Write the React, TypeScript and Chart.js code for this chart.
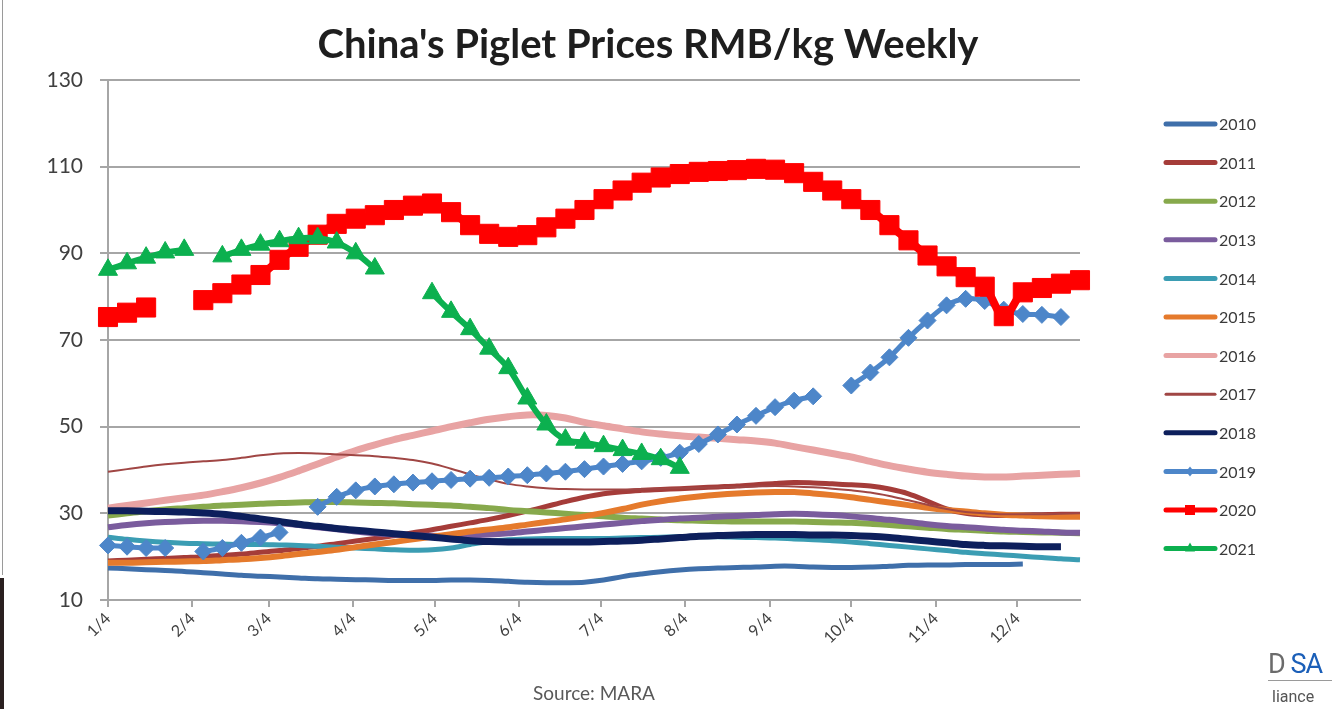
import React, { useEffect, useRef } from "react";
import { Chart, registerables } from "chart.js";

Chart.register(...registerables);

const TITLE = "China's Piglet Prices RMB/kg Weekly";
const SOURCE = "Source: MARA";

// week index of each weekly observation (week 0 = Jan 4)
const WEEKS = [
  0, 1, 2, 3, 4, 5, 6, 7, 8, 9, 10, 11, 12, 13, 14, 15, 16, 17, 18, 19, 20, 21, 22, 23, 24, 25,
  26, 27, 28, 29, 30, 31, 32, 33, 34, 35, 36, 37, 38, 39, 40, 41, 42, 43, 44, 45, 46, 47, 48, 49, 50, 51,
];

// x-axis tick labels and their day-of-year
const MONTH_LABELS = ["1/4", "2/4", "3/4", "4/4", "5/4", "6/4", "7/4", "8/4", "9/4", "10/4", "11/4", "12/4"];
const MONTH_DAY_OF_YEAR = [4, 35, 63, 94, 124, 155, 185, 216, 247, 277, 308, 338];

const Y_MIN = 10;
const Y_MAX = 130;
const Y_STEP = 20;

const YEARS = ["2010", "2011", "2012", "2013", "2014", "2015", "2016", "2017", "2018", "2019", "2020", "2021"];

const S2010 = [
  17.4, 17.2, 17.0, 16.8, 16.6, 16.3, 16.0, 15.7, 15.5, 15.3, 15.1, 14.9, 14.8, 14.7, 14.6, 14.5, 14.5, 14.5,
  14.6, 14.6, 14.5, 14.3, 14.1, 14.0, 14.0, 14.1, 14.6, 15.4, 16.0, 16.5, 16.9, 17.2, 17.4, 17.5, 17.6, 17.8,
  17.8, 17.6, 17.5, 17.5, 17.6, 17.8, 18.0, 18.1, 18.1, 18.2, 18.2, 18.2, 18.3, null, null, null,
];
const S2011 = [
  19.0, 19.2, 19.4, 19.6, 19.8, 20.0, 20.3, 20.6, 21.0, 21.4, 21.9, 22.4, 23.0, 23.6, 24.2, 24.8, 25.5, 26.2,
  27.0, 27.8, 28.6, 29.5, 30.5, 31.6, 32.7, 33.7, 34.5, 35.0, 35.3, 35.5, 35.7, 35.9, 36.1, 36.3, 36.6, 36.9,
  37.1, 37.0, 36.8, 36.6, 36.3, 35.6, 34.5, 32.8, 31.0, 30.0, 29.6, 29.5, 29.6, 29.7, 29.8, 29.8,
];
const S2012 = [
  29.5, 30.0, 30.5, 30.9, 31.2, 31.5, 31.8, 32.0, 32.2, 32.4, 32.5, 32.6, 32.6, 32.5, 32.4, 32.3, 32.1, 32.0,
  31.8, 31.5, 31.2, 30.8, 30.5, 30.2, 29.9, 29.6, 29.3, 29.0, 28.8, 28.6, 28.4, 28.3, 28.2, 28.1, 28.1, 28.1,
  28.1, 28.0, 27.9, 27.8, 27.6, 27.3, 27.0, 26.7, 26.4, 26.2, 26.0, 25.8, 25.7, 25.6, 25.5, 25.4,
];
const S2013 = [
  26.8, 27.3, 27.7, 28.0, 28.2, 28.3, 28.3, 28.2, 28.0, 27.7, 27.3, 26.8, 26.3, 25.8, 25.4, 25.1, 24.9, 24.8,
  24.8, 24.9, 25.1, 25.4, 25.8, 26.2, 26.6, 27.0, 27.4, 27.8, 28.2, 28.5, 28.8, 29.0, 29.2, 29.4, 29.6, 29.8,
  29.9, 29.8, 29.6, 29.3, 28.9, 28.5, 28.0, 27.5, 27.1, 26.8, 26.5, 26.2, 26.0, 25.8, 25.6, 25.5,
];
const S2014 = [
  24.5, 24.0, 23.6, 23.3, 23.1, 23.0, 22.9, 22.8, 22.8, 22.7, 22.6, 22.4, 22.2, 22.0, 21.8, 21.6, 21.5, 21.6,
  22.0, 22.8, 23.5, 23.9, 24.1, 24.2, 24.2, 24.2, 24.2, 24.3, 24.4, 24.5, 24.6, 24.6, 24.6, 24.5, 24.4, 24.3,
  24.1, 23.9, 23.7, 23.4, 23.0, 22.6, 22.2, 21.8, 21.4, 21.0, 20.7, 20.4, 20.1, 19.8, 19.5, 19.3,
];
const S2015 = [
  18.6, 18.6, 18.7, 18.8, 18.9, 19.0, 19.2, 19.4, 19.7, 20.1, 20.6, 21.1, 21.6, 22.2, 22.8, 23.4, 24.0, 24.6,
  25.2, 25.8, 26.3, 26.8, 27.4, 28.0, 28.6, 29.3, 30.1, 31.0, 32.0, 32.8, 33.4, 33.9, 34.3, 34.6, 34.8, 34.9,
  34.9, 34.6, 34.2, 33.7, 33.1, 32.5, 31.9, 31.3, 30.8, 30.4, 30.0, 29.7, 29.5, 29.3, 29.2, 29.2,
];
const S2016 = [
  31.2, 31.8, 32.4, 33.0, 33.6, 34.2, 35.0, 35.9, 37.0, 38.3, 39.8, 41.4, 43.0, 44.5, 45.8, 47.0, 48.0, 49.0,
  50.0, 50.9, 51.7, 52.3, 52.7, 52.6, 52.0, 51.0, 50.2, 49.5, 48.8, 48.3, 47.9, 47.6, 47.3, 47.0, 46.7, 46.2,
  45.4, 44.6, 43.8, 43.0, 42.0, 41.0, 40.2, 39.5, 39.0, 38.6, 38.4, 38.4, 38.6, 38.8, 39.0, 39.2,
];
const S2017 = [
  39.6, 40.2, 40.8, 41.3, 41.7, 42.0, 42.3, 42.8, 43.4, 43.8, 43.9, 43.8, 43.6, 43.4, 43.2, 42.8, 42.3, 41.5,
  40.3, 39.0, 37.8, 36.8, 36.2, 35.8, 35.6, 35.5, 35.5, 35.5, 35.6, 35.7, 35.8, 35.9, 36.0, 36.1, 36.2, 36.3,
  36.2, 36.0, 35.7, 35.3, 34.8, 34.0, 33.0, 32.0, 31.0, 30.3, 30.0, 29.8, 29.8, 29.8, 29.9, 30.0,
];
const S2018 = [
  30.6, 30.6, 30.5, 30.4, 30.3, 30.1, 29.8, 29.3, 28.7, 28.1, 27.5, 27.0, 26.5, 26.1, 25.7, 25.3, 24.9, 24.5,
  24.1, 23.7, 23.5, 23.4, 23.4, 23.4, 23.4, 23.4, 23.5, 23.6, 23.8, 24.1, 24.4, 24.7, 24.9, 25.0, 25.1, 25.1,
  25.1, 25.0, 25.0, 24.9, 24.7, 24.4, 24.0, 23.6, 23.2, 22.8, 22.6, 22.5, 22.4, 22.3, 22.3, null,
];
const S2019 = [
  22.6, 22.3, 22.0, 22.0, null, 21.2, 22.0, 23.2, 24.4, 25.6, null, 31.5, 33.8, 35.3, 36.2, 36.7, 37.1, 37.4,
  37.7, 38.0, 38.2, 38.5, 38.8, 39.2, 39.6, 40.2, 40.8, 41.4, 42.0, 42.8, 44.0, 46.0, 48.2, 50.5, 52.5, 54.5,
  56.0, 57.0, null, 59.5, 62.5, 66.0, 70.5, 74.5, 78.0, 79.5, 79.0, 77.0, 76.0, 75.8, 75.3, null,
];
const S2020 = [
  75.3, 76.3, 77.5, null, null, 79.2, 80.8, 82.8, 85.0, 88.5, 91.5, 94.3, 96.8, 98.0, 98.8, 100.0, 101.0,
  101.5, 99.5, 96.5, 94.5, 93.8, 94.2, 96.0, 98.0, 100.0, 102.5, 104.5, 106.3, 107.5, 108.3, 108.8, 109.0,
  109.2, 109.5, 109.3, 108.5, 106.5, 104.5, 102.5, 100.0, 96.5, 93.0, 89.5, 87.0, 84.5, 82.3, 75.5, 81.0,
  82.0, 83.0, 83.8,
];
const S2021 = [
  86.2, 87.7, 89.0, 90.2, 90.8, null, 89.3, 90.8, 92.0, 92.8, 93.5, 93.5, 92.5, 90.0, 86.5, null, null, 80.8,
  76.5, 72.5, 68.0, 63.5, 56.5, 50.5, 47.0, 46.3, 45.5, 44.6, 43.7, 42.5, 40.5, null, null, null, null, null,
  null, null, null, null, null, null, null, null, null, null, null, null, null, null, null, null,
];

const SERIES = [S2010, S2011, S2012, S2013, S2014, S2015, S2016, S2017, S2018, S2019, S2020, S2021];

// styles
const COLORS = [
  "#3f6faa", "#a53c39", "#87a94c", "#7a5c9d", "#3b9db3", "#e57a2c",
  "#e8a3a3", "#a04644", "#0d1f5c", "#4d86c9", "#ff0000", "#0cb04f",
];
const LINE_WIDTHS = [5, 5, 6, 6, 5, 6, 7, 2, 7, 5, 8, 6];
const POINT_STYLES = [false, false, false, false, false, false, false, false, false, "rectRot", "rect", "triangle"];
const POINT_RADII = [0, 0, 0, 0, 0, 0, 0, 0, 0, 8.5, 13.5, 11];

const TEXT_FONT = "Lato, 'Open Sans', 'Noto Sans', sans-serif";

const overlayPlugin = {
  id: "overlay",
  afterDraw(chart: any) {
    const ctx = chart.ctx as CanvasRenderingContext2D;
    const area = chart.chartArea;
    ctx.save();
    // title
    ctx.fillStyle = "#1e1e1e";
    ctx.font = `bold 40px ${TEXT_FONT}`;
    ctx.textAlign = "center";
    ctx.textBaseline = "alphabetic";
    ctx.fillText(TITLE, 648, 58);
    // source
    ctx.fillStyle = "#595959";
    ctx.font = `19px ${TEXT_FONT}`;
    ctx.fillText(SOURCE, (area.left + area.right) / 2, 700);
    // legend
    ctx.textAlign = "left";
    ctx.textBaseline = "middle";
    ctx.font = `16px ${TEXT_FONT}`;
    chart.data.datasets.forEach((ds: any, i: number) => {
      const y = 124 + i * 38.6;
      ctx.strokeStyle = ds.borderColor;
      ctx.lineWidth = i === 7 ? 3 : 5;
      ctx.lineCap = "round";
      ctx.beginPath();
      ctx.moveTo(1166, y);
      ctx.lineTo(1215, y);
      ctx.stroke();
      if (ds.pointStyle) {
        ctx.fillStyle = ds.borderColor;
        const cx = 1190;
        ctx.beginPath();
        if (ds.pointStyle === "rect") {
          ctx.rect(cx - 5, y - 5, 10, 10);
        } else if (ds.pointStyle === "rectRot") {
          ctx.moveTo(cx, y - 5);
          ctx.lineTo(cx + 4, y);
          ctx.lineTo(cx, y + 5);
          ctx.lineTo(cx - 4, y);
          ctx.closePath();
        } else {
          ctx.moveTo(cx, y - 6);
          ctx.lineTo(cx + 5, y + 3);
          ctx.lineTo(cx - 5, y + 3);
          ctx.closePath();
        }
        ctx.fill();
      }
      ctx.fillStyle = "#3a3a3a";
      ctx.fillText(ds.label, 1219, y + 1);
    });
    ctx.restore();
  },
};

export default function App() {
  const canvasRef = useRef<HTMLCanvasElement | null>(null);

  useEffect(() => {
    if (!canvasRef.current) return;
    const monthPositions = MONTH_DAY_OF_YEAR.map((d) => (d - MONTH_DAY_OF_YEAR[0]) / 7);
    const datasets = YEARS.map((year, i) => ({
      label: year,
      data: SERIES[i],
      borderColor: COLORS[i],
      backgroundColor: COLORS[i],
      borderWidth: LINE_WIDTHS[i],
      pointStyle: POINT_STYLES[i] as any,
      pointRadius: POINT_RADII[i],
      pointHoverRadius: POINT_RADII[i],
      pointBorderWidth: 1,
      pointBackgroundColor: COLORS[i],
      pointBorderColor: COLORS[i],
      tension: 0.35,
      spanGaps: false,
      fill: false,
      clip: false as any,
      order: YEARS.length - 1 - i,
    }));

    const chart = new Chart(canvasRef.current, {
      type: "line",
      data: { labels: WEEKS, datasets },
      options: {
        animation: false,
        responsive: false,
        maintainAspectRatio: false,
        events: [],
        layout: { padding: { top: 80, right: 252, bottom: 0, left: 0 } },
        plugins: {
          legend: { display: false },
          title: { display: false },
          tooltip: { enabled: false },
        },
        scales: {
          x: {
            type: "linear",
            min: WEEKS[0],
            max: WEEKS[WEEKS.length - 1],
            afterBuildTicks: (scale: any) => {
              scale.ticks = monthPositions.map((v) => ({ value: v }));
            },
            afterFit: (scale: any) => {
              scale.height = 109;
            },
            ticks: {
              autoSkip: false,
              maxRotation: 45,
              minRotation: 45,
              padding: 2,
              color: "#404040",
              font: { family: TEXT_FONT, size: 16 },
              callback: (_v: any, idx: number) => MONTH_LABELS[idx],
            },
            grid: {
              drawOnChartArea: false,
              drawTicks: true,
              tickLength: 7,
              color: "#a6a6a6",
              lineWidth: 2,
            },
            border: { color: "#a6a6a6", width: 2 },
          },
          y: {
            min: Y_MIN,
            max: Y_MAX,
            afterFit: (scale: any) => {
              scale.width = 108;
            },
            ticks: {
              stepSize: Y_STEP,
              padding: 17,
              color: "#404040",
              font: { family: TEXT_FONT, size: 21 },
            },
            grid: { color: "#a6a6a6", lineWidth: 2, tickLength: 8 },
            border: { color: "#a6a6a6", width: 2 },
          },
        },
      },
      plugins: [overlayPlugin],
    });
    return () => chart.destroy();
  }, []);

  return (
    <div style={{ position: "fixed", left: 0, top: 0, width: 1332, height: 709, background: "#ffffff", overflow: "hidden" }}>
      <canvas ref={canvasRef} width={1332} height={709} style={{ display: "block" }} />
      <div style={{ position: "absolute", left: 2, top: 0, width: 1, height: 575, background: "#9a9a9a" }} />
      <div style={{ position: "absolute", left: 0, top: 578, width: 4, height: 131, background: "#2a2020" }} />
      <div
        style={{
          position: "absolute",
          left: 1268,
          top: 649,
          fontFamily: "Roboto, sans-serif",
          fontSize: 27,
          lineHeight: "30px",
          whiteSpace: "nowrap",
          letterSpacing: -1,
        }}
      >
        <span style={{ color: "#6b6b6b" }}>D </span>
        <span style={{ color: "#1b5fb8" }}>SA</span>
      </div>
      <div style={{ position: "absolute", left: 1268, top: 680, width: 64, height: 1, background: "#9a9a9a" }} />
      <div
        style={{
          position: "absolute",
          left: 1272,
          top: 688,
          fontFamily: "Roboto, sans-serif",
          fontSize: 16,
          lineHeight: "18px",
          color: "#555555",
          whiteSpace: "nowrap",
        }}
      >
        liance
      </div>
    </div>
  );
}
